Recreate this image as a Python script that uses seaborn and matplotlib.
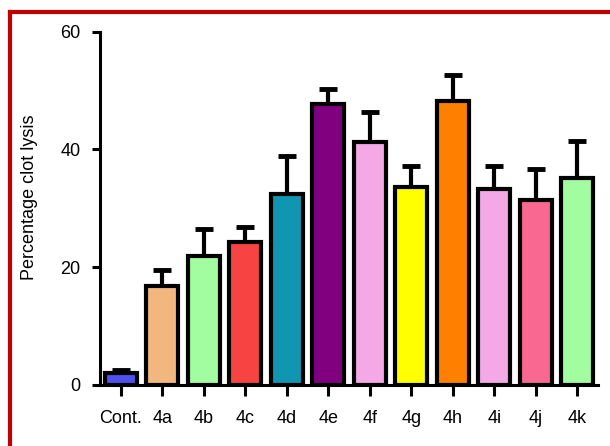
import numpy as np
import pandas as pd
import matplotlib
matplotlib.use("Agg")
import matplotlib.pyplot as plt
import seaborn as sns
from matplotlib.lines import Line2D

# Data
compounds = ["Cont.", "4a", "4b", "4c", "4d", "4e", "4f", "4g", "4h", "4i", "4j", "4k"]
lysis = [2.0, 16.7, 21.8, 24.2, 32.4, 47.7, 41.2, 33.6, 48.3, 33.2, 31.4, 35.1]
sd = [0.5, 2.8, 4.6, 2.6, 6.5, 2.5, 5.2, 3.5, 4.4, 3.9, 5.3, 6.3]
bar_colors = ["#5050F0", "#F2B77E", "#A2FCA0", "#F84343", "#1096B0", "#800080",
              "#F5A8E6", "#FFFF00", "#FF8000", "#F5A8E6", "#F86891", "#A2FCA0"]

df = pd.DataFrame({"compound": compounds, "lysis": lysis, "sd": sd})

sns.set_style("ticks", {"axes.edgecolor": "black", "xtick.color": "black",
                        "ytick.color": "black", "text.color": "black",
                        "axes.labelcolor": "black"})
plt.rcParams['font.family'] = ['Liberation Sans', 'DejaVu Sans']

fig = plt.figure(figsize=(6.1, 4.46), dpi=100)
ax = fig.add_axes([100 / 610, 61.3 / 446, 498 / 610, 353 / 446])

sns.barplot(data=df, x="compound", y="lysis", hue="compound", palette=bar_colors,
            legend=False, edgecolor="black", linewidth=3, width=0.77, saturation=1,
            errorbar=None, ax=ax, zorder=2)

# upper error bars only
ax.errorbar(np.arange(len(compounds)), df["lysis"], yerr=[np.zeros(len(sd)), df["sd"]],
            fmt="none", ecolor="black", elinewidth=3, capsize=6.5, capthick=3.5, zorder=1)

ax.set_xlim(-0.5, 11.5)
ax.set_ylim(0, 60)
ax.set_yticks([0, 20, 40, 60])
ax.set_xlabel("")
ax.set_ylabel("Percentage clot lysis", fontsize=13)
ax.yaxis.set_label_coords(-0.124, 0.53)

sns.despine(ax=ax)
for s in ["left", "bottom"]:
    ax.spines[s].set_linewidth(2.2)
ax.tick_params(axis="x", length=8, width=2.2, pad=10, labelsize=13, colors="black")
ax.tick_params(axis="y", length=6, width=2.2, pad=8, labelsize=13, colors="black")

# red frame around the picture (cut off at right and bottom)
fx = 9.5 / 610
fy = 1 - 12 / 446
red = "#C00000"
fig.add_artist(Line2D([fx, fx], [-0.01, fy], color=red, lw=3, transform=fig.transFigure, solid_capstyle="projecting"))
fig.add_artist(Line2D([fx, 1.01], [fy, fy], color=red, lw=3, transform=fig.transFigure, solid_capstyle="projecting"))
fig.add_artist(Line2D([fx, 1.01], [-1.5 / 446, -1.5 / 446], color=red, lw=3, transform=fig.transFigure))

fig.savefig("out.png", dpi=100)
